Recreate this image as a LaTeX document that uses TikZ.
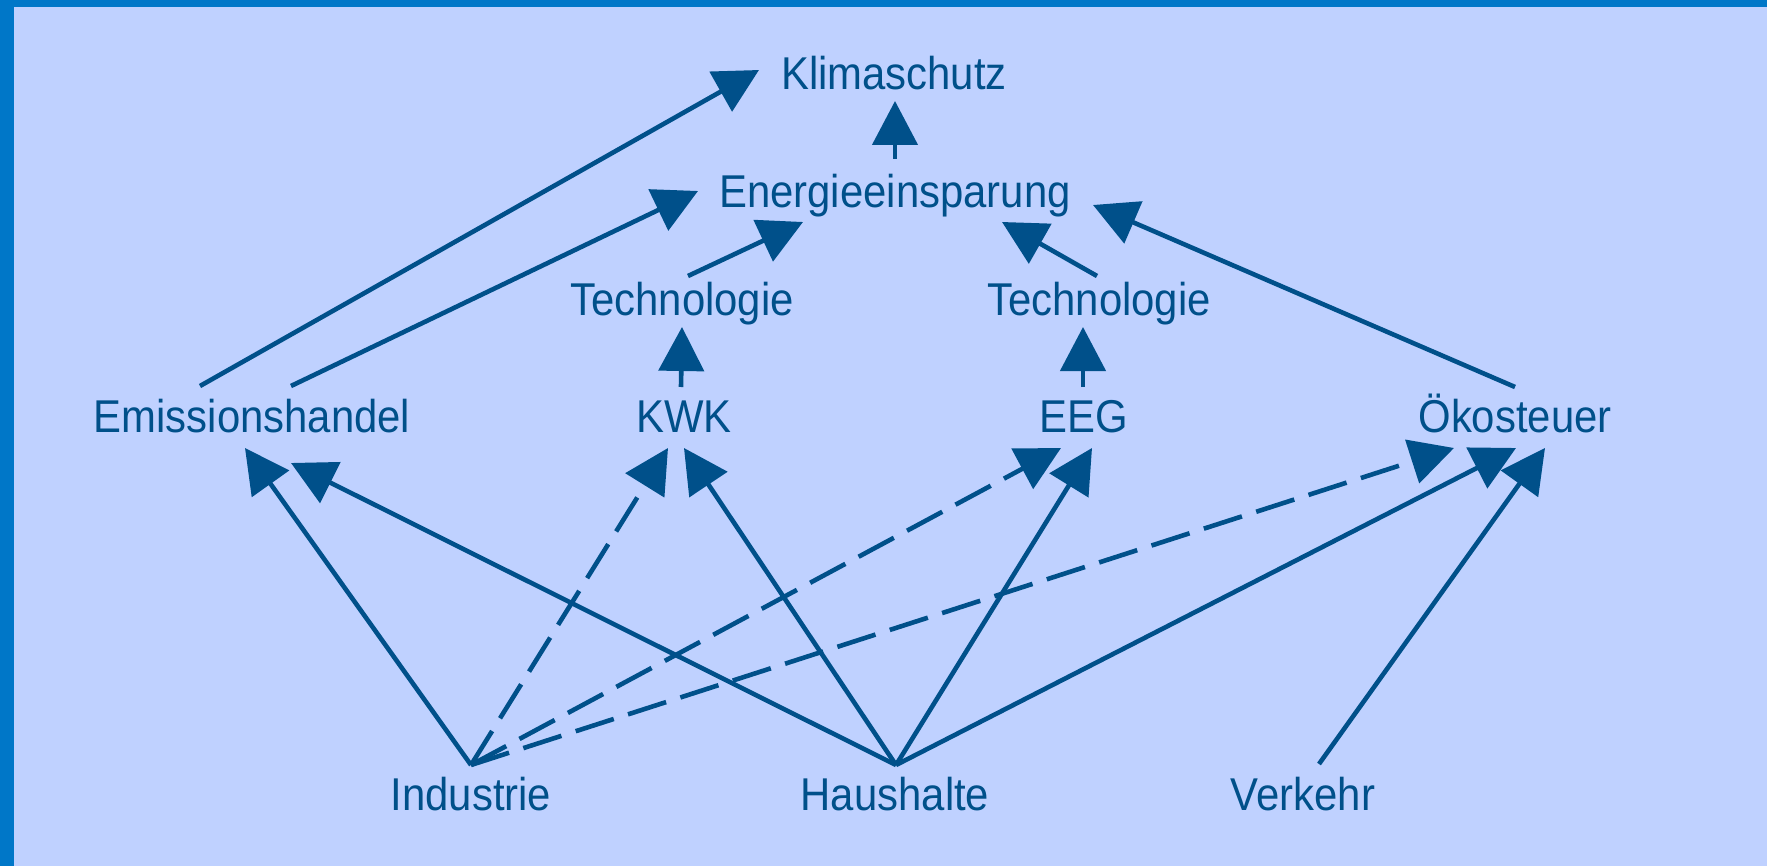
\documentclass[tikz,border=0pt]{standalone}
\usepackage{fontspec}
\setmainfont{Liberation Sans}[FakeStretch=0.91]
\usetikzlibrary{arrows.meta,calc}
\definecolor{bg}{RGB}{191,209,255}
\definecolor{bar}{RGB}{0,119,200}
\definecolor{ink}{RGB}{0,80,138}
\begin{document}
\begin{tikzpicture}[x=0.5pt,y=-0.5pt,
		lbl/.style={inner sep=0pt,text height=16.5pt,text depth=0pt,text=ink,font=\fontsize{23}{27}\selectfont},
		pfeil/.style={draw=ink,line width=2.3pt,-{Triangle[length=22pt,width=22.5pt]}},
		gestr/.style={pfeil,dash pattern=on 20pt off 7.5pt}]
		\useasboundingbox (0,0) rectangle (1767,866);
		\fill[bg] (0,0) rectangle (1767,866);
		\fill[bar] (0,0) rectangle (1767,7);
		\fill[bar] (0,0) rectangle (14,866);
		\node[lbl] (klima) at (894,73) {Klimaschutz};
		\node[lbl] (energ) at (895,191) {Energieeinsparung};
		\node[lbl] (techL) at (682,299) {Technologie};
		\node[lbl] (techR) at (1099,299) {Technologie};
		\node[lbl] (emis) at (252,416) {Emissionshandel};
		\node[lbl] (kwk) at (684,416) {KWK};
		\node[lbl] (eeg) at (1084,416) {EEG};
		\node[lbl] (oeko) at (1515,416) {Ökosteuer};
		\node[lbl] (ind) at (471,794) {Industrie};
		\node[lbl] (haus) at (895,794) {Haushalte};
		\node[lbl] (verk) at (1303,794) {Verkehr};
		\draw[pfeil] ($(emis.center)+(-52,-30)$) -- ($(klima.center)+(-135,-3)$);
		\draw[pfeil] ($(emis.center)+(39,-30)$) -- ($(energ.center)+(-197,0)$);
		\draw[pfeil] ($(techL.center)+(6,-23)$) -- ($(energ.center)+(-92,31)$);
		\draw[pfeil] ($(techR.center)+(-2,-23)$) -- ($(energ.center)+(107,31)$);
		\draw[pfeil] ($(oeko.center)+(0,-29)$) -- ($(energ.center)+(198,14)$);
		\draw[pfeil] ($(energ.center)+(0,-32)$) -- ($(klima.center)+(1,28)$);
		\draw[pfeil] ($(kwk.center)+(-3,-29)$) -- ($(techL.center)+(0,28)$);
		\draw[pfeil] ($(eeg.center)+(-1,-29)$) -- ($(techR.center)+(-16,28)$);
		\draw[pfeil] ($(ind.center)+(0,-29)$) -- ($(emis.center)+(-7,32)$);
		\draw[pfeil] ($(haus.center)+(1,-29)$) -- ($(emis.center)+(39,47)$);
		\draw[gestr] ($(ind.center)+(0,-29)$) -- ($(kwk.center)+(-16,32)$);
		\draw[pfeil] ($(haus.center)+(1,-29)$) -- ($(kwk.center)+(0,32)$);
		\draw[gestr] ($(ind.center)+(0,-29)$) -- ($(eeg.center)+(-23,32)$);
		\draw[pfeil] ($(haus.center)+(1,-29)$) -- ($(eeg.center)+(8,32)$);
		\draw[gestr] ($(ind.center)+(0,-29)$) -- ($(oeko.center)+(-61,32)$);
		\draw[pfeil] ($(haus.center)+(1,-29)$) -- ($(oeko.center)+(1,32)$);
		\draw[pfeil] ($(verk.center)+(16,-30)$) -- ($(oeko.center)+(30,32)$);
	\end{tikzpicture}
\end{document}
